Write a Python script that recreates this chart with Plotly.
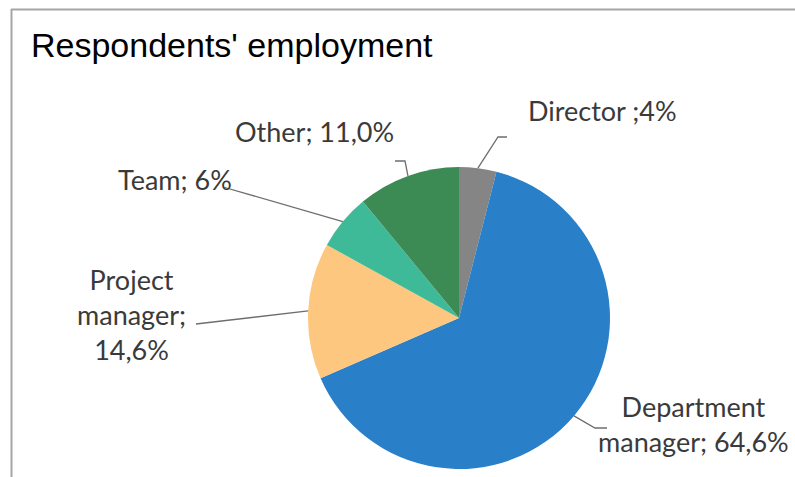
import math
import plotly.graph_objects as go

# Data
categories = ["Director", "Department manager", "Project manager", "Team", "Other"]
values = [4.0, 64.6, 14.6, 6.0, 11.0]
label_texts = ["Director ;4%", "Department<br>manager; 64,6%", "Project<br>manager;<br>14,6%",
               "Team; 6%", "Other; 11,0%"]
colors = ["#858585", "#2a80c8", "#fdc77f", "#3fba98", "#3d8b54"]

W, H = 795, 477
CX, CY, R = 459, 318, 151  # pie centre and radius in pixels


def px(x):
    return x / W


def py(y):
    return 1 - y / H


fig = go.Figure(go.Pie(
    labels=categories,
    values=values,
    sort=False,
    direction="clockwise",
    rotation=0,
    marker=dict(colors=colors, line=dict(width=0)),
    textinfo="none",
    hoverinfo="label+percent",
    showlegend=False,
    domain=dict(x=[px(CX - R), px(CX + R)], y=[py(CY + R), py(CY - R)]),
))

# Point on the rim at the middle of each slice
total = sum(values)
rim = []
acc = 0.0
for v in values:
    mid = (acc + v / 2) / total * 2 * math.pi
    rim.append((CX + R * math.sin(mid), CY - R * math.cos(mid)))
    acc += v

# Label placement (pixels) and leader-line bends
label_pos = [(602, 111), (693, 424), (131, 314), (175, 179), (314, 131)]
bends = [
    [(498, 137), (507, 137)],
    [(595, 428), (607, 428)],
    [(196, 324)],
    [(223, 187)],
    [(405, 161), (395, 161)],
]

shapes = []
for (x0, y0), pts in zip(rim, bends):
    path = f"M {px(x0)},{py(y0)}" + "".join(f" L {px(x)},{py(y)}" for x, y in pts)
    shapes.append(dict(type="path", xref="paper", yref="paper", path=path,
                       line=dict(color="#6e6e6e", width=1.3)))

# Frame lines along top and left
shapes.append(dict(type="line", xref="paper", yref="paper", x0=px(11), x1=1.0,
                   y0=py(9.5), y1=py(9.5), line=dict(color="#a6a6a6", width=2)))
shapes.append(dict(type="line", xref="paper", yref="paper", x0=px(11.5), x1=px(11.5),
                   y0=py(9), y1=0, line=dict(color="#a6a6a6", width=2)))

annotations = []
for (lx, ly), txt in zip(label_pos, label_texts):
    annotations.append(dict(x=px(lx), y=py(ly), xref="paper", yref="paper",
                            text=txt, showarrow=False, xanchor="center", yanchor="middle",
                            align="center",
                            font=dict(family="Lato", size=27, color="#3a3a3a")))

annotations.append(dict(x=px(29), y=py(45), xref="paper", yref="paper",
                        text="Respondents' employment", showarrow=False,
                        xanchor="left", yanchor="middle",
                        font=dict(family="Liberation Sans", size=34, color="#000000")))

fig.update_layout(
    width=W, height=H,
    margin=dict(l=0, r=0, t=0, b=0),
    paper_bgcolor="white",
    plot_bgcolor="white",
    shapes=shapes,
    annotations=annotations,
)

fig.write_html("out.html")
